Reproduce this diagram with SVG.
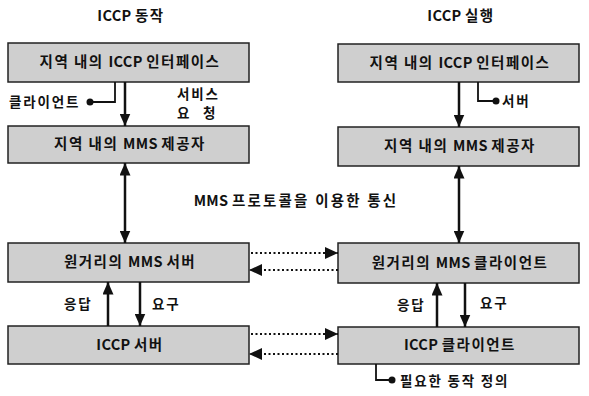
<svg xmlns="http://www.w3.org/2000/svg" width="589" height="396" viewBox="0 0 589 396">
<style>
.box{fill:#cfcfcf;stroke:#222;stroke-width:1.5}
.t{font-family:"Noto Sans CJK KR","Noto Sans",sans-serif;font-weight:bold;font-size:14.5px;letter-spacing:1.5px;fill:#111;text-anchor:middle}
.e{letter-spacing:0.3px}
.s{font-family:"Noto Sans CJK KR","Noto Sans",sans-serif;font-weight:bold;font-size:13.5px;letter-spacing:1.8px;fill:#111}
.ln{stroke:#111;stroke-width:2.5;fill:none}
.thin{stroke:#111;stroke-width:1.8;fill:none}
.dot{stroke:#111;stroke-width:2;fill:none;stroke-dasharray:2 2.5}
</style>
<defs>
<marker id="ah" viewBox="0 0 10 10" refX="10" refY="5" markerWidth="5" markerHeight="4.4" orient="auto-start-reverse" markerUnits="strokeWidth" preserveAspectRatio="none"><path d="M0,0 L10,5 L0,10 z" fill="#111"/></marker>
<marker id="ad" viewBox="0 0 10 10" refX="10" refY="5" markerWidth="6.5" markerHeight="6" orient="auto-start-reverse" markerUnits="strokeWidth" preserveAspectRatio="none"><path d="M0,0 L10,5 L0,10 z" fill="#111"/></marker>
</defs>
<text class="t" x="131" y="21" font-size="15"><tspan class="e">ICCP </tspan>동작</text>
<text class="t" x="461" y="21" font-size="15"><tspan class="e">ICCP </tspan>실행</text>
<g id="l1"><rect class="box" x="8" y="43" width="241" height="39"/><text class="t" x="130" y="67">지역 내의 <tspan class="e">ICCP </tspan>인터페이스</text></g>
<g id="l2"><rect class="box" x="8" y="126" width="241" height="37"/><text class="t" x="130" y="149">지역 내의 <tspan class="e">MMS </tspan>제공자</text></g>
<g id="l3"><rect class="box" x="8" y="243" width="241" height="39"/><text class="t" x="130" y="267">원거리의 <tspan class="e">MMS </tspan>서버</text></g>
<g id="l4"><rect class="box" x="8" y="326" width="241" height="38"/><text class="t" x="130" y="350"><tspan class="e">ICCP </tspan>서버</text></g>
<g id="r1"><rect class="box" x="338" y="44" width="241" height="38"/><text class="t" x="460" y="68">지역 내의 <tspan class="e">ICCP </tspan>인터페이스</text></g>
<g id="r2"><rect class="box" x="338" y="127" width="241" height="39"/><text class="t" x="460" y="151">지역 내의 <tspan class="e">MMS </tspan>제공자</text></g>
<g id="r3"><rect class="box" x="338" y="243" width="241" height="40"/><text class="t" x="460" y="268">원거리의 <tspan class="e">MMS </tspan>클라이언트</text></g>
<g id="r4"><rect class="box" x="338" y="327" width="241" height="37"/><text class="t" x="460" y="350"><tspan class="e">ICCP </tspan>클라이언트</text></g>
<g id="connectors">
<line class="ln" x1="125" y1="82" x2="125" y2="126" marker-end="url(#ah)"/>
<line class="ln" x1="459" y1="82" x2="459" y2="127" marker-end="url(#ah)"/>
<line class="ln" x1="125" y1="163" x2="125" y2="243" marker-start="url(#ah)" marker-end="url(#ah)"/>
<line class="ln" x1="459" y1="166" x2="459" y2="243" marker-start="url(#ah)" marker-end="url(#ah)"/>
<line class="ln" x1="108" y1="326" x2="108" y2="282" marker-end="url(#ah)"/>
<line class="ln" x1="140" y1="282" x2="140" y2="326" marker-end="url(#ah)"/>
<line class="ln" x1="437" y1="327" x2="437" y2="283" marker-end="url(#ah)"/>
<line class="ln" x1="465" y1="283" x2="465" y2="327" marker-end="url(#ah)"/>
<line class="dot" x1="251" y1="253" x2="338" y2="253" marker-end="url(#ad)"/>
<line class="dot" x1="338" y1="270" x2="249" y2="270" marker-end="url(#ad)"/>
<line class="dot" x1="251" y1="334" x2="338" y2="334" marker-end="url(#ad)"/>
<line class="dot" x1="338" y1="354" x2="249" y2="354" marker-end="url(#ad)"/>
<polyline class="thin" points="115,82 115,102 90,102"/>
<circle cx="90" cy="102" r="3.5" fill="#111"/>
<polyline class="thin" points="478,82 478,101 496,101"/>
<circle cx="496" cy="101" r="3.5" fill="#111"/>
<polyline class="thin" points="376,364 376,380 392,380"/>
<circle cx="392" cy="380" r="3.5" fill="#111"/>
</g>
<text class="s" x="9" y="107">클라이언트</text>
<text class="s" x="177" y="99" font-size="12.5">서비스</text>
<text class="s" x="177" y="118" font-size="12.5">요</text>
<text class="s" x="203" y="118" font-size="12.5">청</text>
<text class="s" x="502" y="106">서버</text>
<text class="t" x="296" y="206" font-size="17" style="letter-spacing:2.2px"><tspan class="e">MMS </tspan>프로토콜을 이용한 통신</text>
<text class="s" x="64" y="309">응답</text>
<text class="s" x="152" y="309">요구</text>
<text class="s" x="397" y="310">응답</text>
<text class="s" x="480" y="308">요구</text>
<text class="s" x="400" y="386">필요한 동작 정의</text>
</svg>
